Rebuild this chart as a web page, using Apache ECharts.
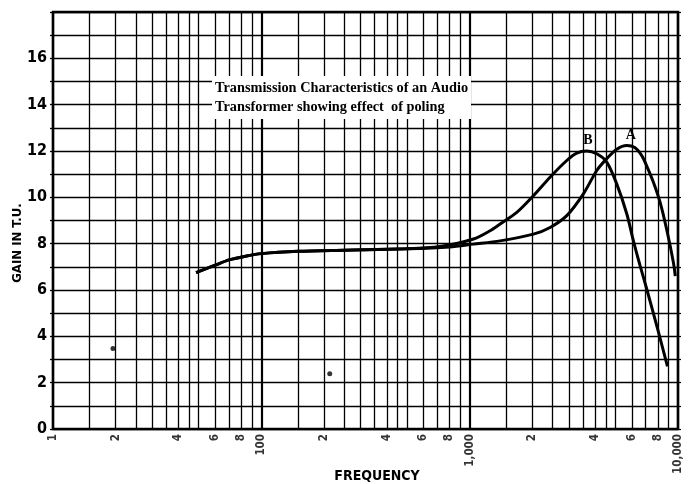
<!DOCTYPE html>
<html>
<head>
<meta charset="utf-8">
<script src="https://cdn.jsdelivr.net/npm/echarts@6/dist/echarts.min.js"></script>
<style>
html,body{margin:0;padding:0;background:#fff;}
#c{width:697px;height:484px;}
</style>
</head>
<body>
<div id="c"></div>
<script>
// ---- data ----
const curveA = [
  [48.6, 6.75], [60, 7.07], [70, 7.3], [85, 7.47], [100, 7.57], [150, 7.67],
  [250, 7.72], [500, 7.78], [800, 7.86], [1043, 7.98], [1400, 8.12], [2023, 8.41],
  [2432, 8.7], [2925, 9.21], [3515, 10.15], [4075, 11.16], [4550, 11.67],
  [5080, 12.08], [5680, 12.24], [6200, 12.15], [6700, 11.8], [7080, 11.35], [7620, 10.65],
  [8200, 9.79], [8830, 8.6], [9500, 7.2], [9700, 6.6]
];
const curveB = [
  [48.6, 6.75], [60, 7.07], [70, 7.3], [85, 7.47], [100, 7.57], [150, 7.67],
  [250, 7.72], [500, 7.78], [721, 7.88], [1043, 8.2], [1253, 8.56], [1400, 8.85],
  [1683, 9.35], [2023, 10.07], [2432, 10.87], [2925, 11.59], [3265, 11.91],
  [3650, 12.0], [4075, 11.88], [4550, 11.52], [5080, 10.58], [5680, 9.28],
  [6110, 8.12], [6580, 7.04], [7100, 6.0], [8000, 4.29], [8900, 2.7]
];
const specks = [[19.4, 3.47], [213, 2.39]];
const xTickValues = [10, 20, 40, 60, 80, 100, 200, 400, 600, 800, 1000, 2000, 4000, 6000, 8000, 10000];
const xTickLabels = ['1', '2', '4', '6', '8', '100', '2', '4', '6', '8', '1,000', '2', '4', '6', '8', '10,000'];
const minorGridMultipliers = [1.5, 2, 2.5, 3, 3.5, 4, 4.5, 5, 6, 7, 8, 9];
const decades = [10, 100, 1000];
const yMax = 18;
const titleLines = ['Transmission Characteristics of an Audio', 'Transformer showing effect  of poling'];

// ---- build ----
const narrow = "'Liberation Sans Narrow','DejaVu Sans Condensed','Arial Narrow',sans-serif";
const serif = "'Liberation Serif','DejaVu Serif',serif";
const gridLines = [];
decades.forEach(d => minorGridMultipliers.forEach(m => gridLines.push({ xAxis: d * m })));

const chart = echarts.init(document.getElementById('c'));
chart.setOption({
  animation: false,
  backgroundColor: '#fff',
  grid: { left: 53, right: 19, top: 12, bottom: 55, show: true, borderColor: '#000', borderWidth: 2.5, backgroundColor: 'transparent', z: 3 },
  xAxis: {
    type: 'log', logBase: 10, min: 10, max: 10000,
    axisLine: { show: false }, axisTick: { show: false }, axisLabel: { show: false },
    splitLine: { show: true, lineStyle: { color: '#000', width: 2.2 } }
  },
  yAxis: [{
    type: 'value', min: 0, max: yMax, interval: 1,
    axisLine: { show: false },
    axisTick: { show: true, inside: false, length: 3, lineStyle: { color: '#000', width: 1.3 } },
    axisLabel: {
      margin: 6, color: '#000', fontFamily: narrow, fontWeight: 'bold', fontSize: 16,
      formatter: v => (v % 2 === 0 && v < yMax) ? String(v) : ''
    },
    splitLine: { show: true, lineStyle: { color: '#000', width: 1.3 } }
  }, {
    type: 'value', min: 0, max: yMax, interval: 1, position: 'right',
    axisLine: { show: false }, axisLabel: { show: false }, splitLine: { show: false },
    axisTick: { show: true, inside: false, length: 3, lineStyle: { color: '#000', width: 1.2 } }
  }],
  series: [
    {
      name: 'ticks', type: 'scatter', symbolSize: 0, z: 2, silent: true,
      data: xTickValues.map((v, i) => ({ value: [v, 0], name: xTickLabels[i] })),
      label: {
        show: true, position: 'bottom', distance: 5, rotate: 90, align: 'right', verticalAlign: 'middle',
        formatter: p => p.name, color: '#000', fontFamily: narrow, fontWeight: 'bold', fontSize: 11.5
      },
      markLine: {
        silent: true, symbol: 'none', label: { show: false },
        lineStyle: { color: '#000', width: 1.3, type: 'solid' },
        data: gridLines
      }
    },
    {
      name: 'A', type: 'line', data: curveA, smooth: 0.3, showSymbol: false, z: 5,
      lineStyle: { color: '#000', width: 3 },
      markPoint: {
        symbol: 'circle', symbolSize: 0, data: [{ type: 'max' }],
        label: { show: true, formatter: 'A', position: 'top', distance: 3, offset: [4, 0], color: '#000', fontFamily: serif, fontWeight: 'bold', fontSize: 14 }
      }
    },
    {
      name: 'B', type: 'line', data: curveB, smooth: 0.3, showSymbol: false, z: 5,
      lineStyle: { color: '#000', width: 3 },
      markPoint: {
        symbol: 'circle', symbolSize: 0, data: [{ type: 'max' }],
        label: { show: true, formatter: 'B', position: 'top', distance: 4, offset: [1, 0], color: '#000', fontFamily: serif, fontWeight: 'bold', fontSize: 14 }
      }
    },
    {
      name: 'specks', type: 'scatter', data: specks, symbolSize: 5, z: 5,
      itemStyle: { color: '#000' }
    }
  ],
  graphic: [
    { type: 'rect', z: 10, shape: { x: 212, y: 76, width: 259, height: 43 }, style: { fill: '#fff' } },
    { type: 'text', z: 11, x: 215, y: 88, style: { text: titleLines[0], fill: '#000', font: "bold 14.3px " + serif, verticalAlign: 'middle' } },
    { type: 'text', z: 11, x: 215, y: 107, style: { text: titleLines[1], fill: '#000', font: "bold 14.3px " + serif, verticalAlign: 'middle' } },
    { type: 'text', z: 11, x: 18, y: 243, rotation: Math.PI / 2, style: { text: 'GAIN IN T.U.', fill: '#000', font: "bold 13px " + narrow, align: 'center', verticalAlign: 'middle' } },
    { type: 'text', z: 11, x: 377, y: 476, style: { text: 'FREQUENCY', fill: '#000', font: "bold 14px " + narrow, align: 'center', verticalAlign: 'middle' } }
  ]
});
</script>
</body>
</html>
